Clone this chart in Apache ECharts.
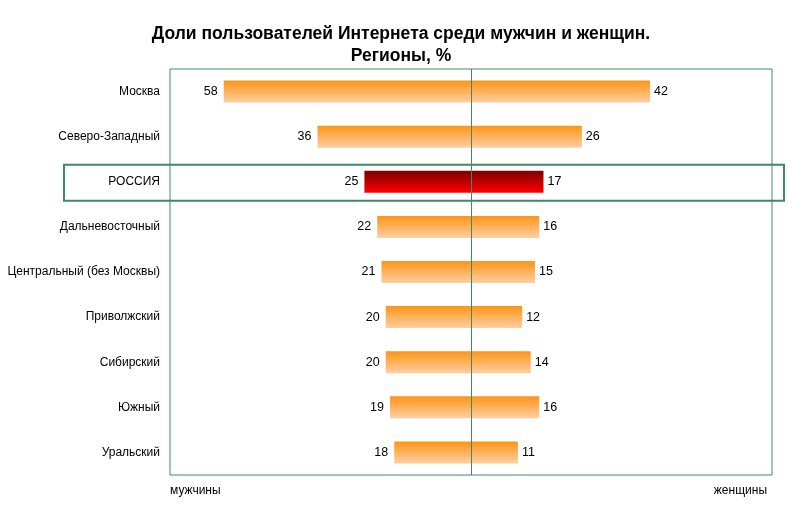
<!DOCTYPE html>
<html><head><meta charset="utf-8">
<script src="https://cdn.jsdelivr.net/npm/echarts@6/dist/echarts.min.js"></script>
<style>html,body{margin:0;padding:0;background:#fff}#c{width:792px;height:509px}</style>
</head><body><div id="c"></div>
<script>
const categories = ['Москва','Северо-Западный','РОССИЯ','Дальневосточный','Центральный (без Москвы)','Приволжский','Сибирский','Южный','Уральский'];
const menValues = [58,36,25,22,21,20,20,19,18];
const womenValues = [42,26,17,16,15,12,14,16,11];
const highlightCategory = 'РОССИЯ';
const titleLines = ['Доли пользователей Интернета среди мужчин и женщин.','Регионы, %'];
const leftLabel = 'мужчины';
const rightLabel = 'женщины';

const FONT = '"Liberation Sans", Arial, sans-serif';
const green = '#3f8a66';
const orangeGrad = new echarts.graphic.LinearGradient(0,0,0,1,[{offset:0,color:'#ff9416'},{offset:1,color:'#ffcfa3'}]);
const redGrad = new echarts.graphic.LinearGradient(0,0,0,1,[{offset:0,color:'#7e0000'},{offset:1,color:'#ff0000'}]);

function itemsFor(vals, sign){
  return vals.map((v,i)=>({value: sign*v, itemStyle:{color: categories[i]===highlightCategory ? redGrad : orangeGrad}}));
}

const chart = echarts.init(document.getElementById('c'));
chart.setOption({
  animation:false,
  title:{text: titleLines.join('\n'), left: 396, textAlign:'center', top: 18,
    textStyle:{fontFamily:FONT, fontSize:17.5, fontWeight:'bold', color:'#000', lineHeight:22}},
  grid:{left:170, right:20, top:69, bottom:34, show:true, borderColor:green, borderWidth:1, containLabel:false},
  xAxis:{type:'value', min:-70.6, max:70.6, show:false},
  yAxis:{type:'category', data:categories, inverse:true,
    axisLine:{show:false}, axisTick:{show:false}, splitLine:{show:false},
    axisLabel:{fontFamily:FONT, fontSize:12, color:'#000', margin:10}},
  series:[
    {type:'bar', stack:'t', data:itemsFor(menValues,-1), barWidth:22,
      label:{show:true, position:'left', formatter:p=>Math.abs(p.value), fontFamily:FONT, fontSize:12.5, color:'#000', distance:6}},
    {type:'bar', stack:'t', data:itemsFor(womenValues,1), barWidth:22,
      label:{show:true, position:'right', formatter:p=>p.value, fontFamily:FONT, fontSize:12.5, color:'#000', distance:4}}
  ]
});

const yc = chart.convertToPixel({yAxisIndex:0}, highlightCategory);
const bandH = (chart.convertToPixel({yAxisIndex:0}, categories[1]) - chart.convertToPixel({yAxisIndex:0}, categories[0]));
const x0 = Math.round(chart.convertToPixel({xAxisIndex:0}, 0)) + 0.5;
chart.setOption({
  graphic:[
    {type:'line', shape:{x1:x0, y1:69, x2:x0, y2:475}, style:{stroke:green, lineWidth:1}, z:90},
    {type:'rect', shape:{x:64, y:yc-bandH*0.4+1, width:720, height:bandH*0.8}, style:{fill:'none', stroke:green, lineWidth:2}, z:100},
    {type:'text', left:170, top:485, style:{text:leftLabel, font:'12px '+FONT, fill:'#000'}},
    {type:'text', right:25, top:485, style:{text:rightLabel, font:'12px '+FONT, fill:'#000'}}
  ]
});
</script></body></html>
